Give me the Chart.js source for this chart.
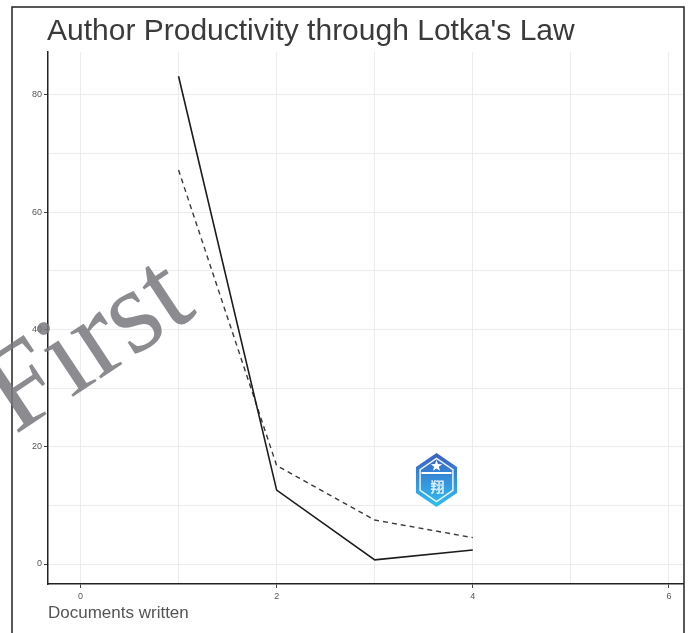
<!DOCTYPE html>
<html>
<head>
<meta charset="utf-8">
<script src="https://cdn.jsdelivr.net/npm/chart.js@4.4.0/dist/chart.umd.min.js"></script>
<style>
  html, body { margin: 0; padding: 0; background: #fff; }
  canvas { display: block; }
</style>
</head>
<body>
<canvas id="chart" width="690" height="633"></canvas>
<script>
// Lotka's law data
const docsWritten = [1, 2, 3, 4];
const observed = [83.2, 12.6, 0.7, 2.4];
const theoretical = [67.2, 16.8, 7.5, 4.5];
const xLabelTicks = [0, 2, 4, 6];
const yLabelTicks = [0, 20, 40, 60, 80];
const titleText = "Author Productivity through Lotka's Law";
const xTitleText = 'Documents written';
const watermarkText = 'First';

const tickGray = '#555';
const gridGray = '#ececec';

// Small blue hexagon badge
function drawLogo(c, cx, top) {
  c.save();
  const hw = 20.5, y1 = top + 14, y2 = top + 40, bot = top + 54;
  const hex = (s) => {
    const my = (top + bot) / 2;
    const p = [[cx, top], [cx + hw, y1], [cx + hw, y2], [cx, bot], [cx - hw, y2], [cx - hw, y1]];
    c.beginPath();
    p.forEach(([x, y], i) => {
      const px = cx + (x - cx) * s, py = my + (y - my) * s;
      i ? c.lineTo(px, py) : c.moveTo(px, py);
    });
    c.closePath();
  };
  const g = c.createLinearGradient(0, top, 0, bot);
  g.addColorStop(0, '#3a5fc2');
  g.addColorStop(1, '#2fc0f2');
  hex(1);
  c.fillStyle = g;
  c.fill();
  hex(0.8);
  c.strokeStyle = 'rgba(255,255,255,0.9)';
  c.lineWidth = 1.5;
  c.stroke();
  // star
  c.fillStyle = '#fff';
  c.beginPath();
  for (let i = 0; i < 10; i++) {
    const r = i % 2 ? 2.5 : 6;
    const a = -Math.PI / 2 + i * Math.PI / 5;
    const x = cx + r * Math.cos(a), y = top + 13 + r * Math.sin(a);
    i ? c.lineTo(x, y) : c.moveTo(x, y);
  }
  c.closePath();
  c.fill();
  // text band
  c.fillRect(cx - 15, top + 19, 30, 2);
  c.font = 'bold 14px "Noto Sans CJK SC", sans-serif';
  c.textAlign = 'center';
  c.textBaseline = 'middle';
  c.fillStyle = 'rgba(255,255,255,0.85)';
  c.fillText('翔', cx + 1, top + 34);
  c.restore();
}

const decor = {
  id: 'decor',
  beforeDraw(chart) {
    const c = chart.ctx;
    c.save();
    c.fillStyle = '#fff';
    c.fillRect(0, 0, chart.width, chart.height);
    c.restore();
  },
  afterDraw(chart) {
    const c = chart.ctx;
    c.save();
    // outer frame
    c.strokeStyle = '#222';
    c.lineWidth = 1.5;
    c.beginPath();
    c.moveTo(12, 633);
    c.lineTo(12, 7);
    c.lineTo(684, 7);
    c.lineTo(684, 633);
    c.stroke();
    // title
    c.fillStyle = '#3a3a3a';
    c.font = '30px "Liberation Sans", Arial, sans-serif';
    c.textBaseline = 'alphabetic';
    c.textAlign = 'left';
    c.fillText(titleText, 47, 40);
    // badge
    drawLogo(c, 436.5, 453);
    // watermark
    c.translate(15, 435);
    c.rotate(-33.5 * Math.PI / 180);
    c.font = '120px "Liberation Serif", "DejaVu Serif", serif';
    c.fillStyle = 'rgba(120,120,125,0.85)';
    c.textAlign = 'left';
    c.textBaseline = 'alphabetic';
    c.fillText(watermarkText, 0, 0);
    c.restore();
  }
};

new Chart(document.getElementById('chart'), {
  type: 'line',
  data: {
    datasets: [
      {
        label: 'Observed',
        data: docsWritten.map((x, i) => ({ x: x, y: observed[i] })),
        borderColor: '#1c1c1c',
        borderWidth: 1.6,
        pointRadius: 0,
        fill: false,
        tension: 0
      },
      {
        label: 'Theoretical',
        data: docsWritten.map((x, i) => ({ x: x, y: theoretical[i] })),
        borderColor: '#3a3a3a',
        borderWidth: 1.4,
        borderDash: [5, 4],
        pointRadius: 0,
        fill: false,
        tension: 0
      }
    ]
  },
  options: {
    responsive: false,
    animation: false,
    layout: { padding: { left: 12, right: 7, top: 52, bottom: 0 } },
    plugins: {
      legend: { display: false },
      title: { display: false },
      tooltip: { enabled: false }
    },
    scales: {
      x: {
        type: 'linear',
        min: -0.331,
        max: 6.143,
        afterFit: (s) => { s.height = 49; },
        ticks: {
          stepSize: 1,
          includeBounds: false,
          autoSkip: false,
          maxRotation: 0,
          padding: 3,
          color: tickGray,
          font: { size: 9, family: '"Liberation Sans", Arial, sans-serif' },
          callback: (v) => xLabelTicks.includes(v) ? String(v) : ''
        },
        grid: {
          color: gridGray,
          lineWidth: 1,
          tickLength: 4,
          tickColor: (ctx) => ctx.tick && xLabelTicks.includes(ctx.tick.value) ? '#444' : 'rgba(0,0,0,0)'
        },
        border: { color: '#222', width: 1.5 },
        title: {
          display: true,
          text: xTitleText,
          align: 'start',
          color: '#555',
          font: { size: 17, family: '"Liberation Sans", Arial, sans-serif' },
          padding: { top: 2, bottom: 9 }
        }
      },
      y: {
        type: 'linear',
        min: -3.41,
        max: 87.33,
        afterFit: (s) => { s.width = 36; },
        ticks: {
          stepSize: 10,
          includeBounds: false,
          autoSkip: false,
          padding: 2,
          color: tickGray,
          font: { size: 9, family: '"Liberation Sans", Arial, sans-serif' },
          callback: (v) => yLabelTicks.includes(v) ? String(v) : ''
        },
        grid: {
          color: gridGray,
          lineWidth: 1,
          tickLength: 4,
          tickColor: (ctx) => ctx.tick && yLabelTicks.includes(ctx.tick.value) ? '#444' : 'rgba(0,0,0,0)'
        },
        border: { color: '#222', width: 1.5 }
      }
    }
  },
  plugins: [decor]
});
</script>
</body>
</html>
